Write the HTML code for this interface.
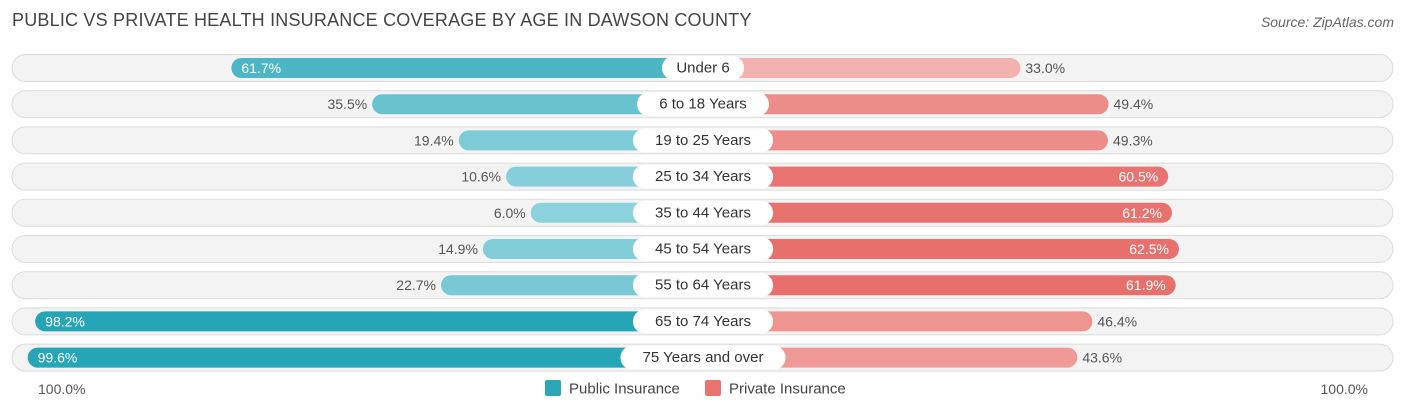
<!DOCTYPE html>
<html><head><meta charset="utf-8"><style>
body{margin:0;width:1406px;height:414px;background:#fff;font-family:"Liberation Sans",sans-serif;overflow:hidden;position:relative}
.t{position:absolute;left:12px;top:10px;font-size:18px;color:#444;letter-spacing:0.2px}
.s{position:absolute;right:12px;top:14px;font-size:14px;color:#666;font-style:italic}
</style></head><body>
<div class="t">PUBLIC VS PRIVATE HEALTH INSURANCE COVERAGE BY AGE IN DAWSON COUNTY</div>
<div class="s">Source: ZipAtlas.com</div>
<svg id="c" width="1406" height="414" style="position:absolute;left:0;top:0"></svg>
<script>
const categories=["Under 6","6 to 18 Years","19 to 25 Years","25 to 34 Years","35 to 44 Years","45 to 54 Years","55 to 64 Years","65 to 74 Years","75 Years and over"];
const publicVals=[61.7,35.5,19.4,10.6,6.0,14.9,22.7,98.2,99.6];
const privateVals=[33.0,49.4,49.3,60.5,61.2,62.5,61.9,46.4,43.6];
const NS="http://www.w3.org/2000/svg";
const svg=document.getElementById('c');
const cx=703,off=140,k=5.375,y0=68,dy=36.2,bh=20;
function xl(v){return cx-off-v*k}
function xr(v){return cx+off+v*k}
function mix(a,b,t){return 'rgb('+a.map((c,i)=>Math.round(c+(b[i]-c)*t)).join(',')+')'}
function pubCol(v){return mix([140,210,220],[38,165,183],Math.min(1,Math.max(0,(v-5)/90)))}
function privCol(v){return mix([244,185,183],[232,112,108],Math.min(1,Math.max(0,(v-30)/32)))}
function el(tag,attrs,name){const e=document.createElementNS(NS,tag);for(const a in attrs)e.setAttribute(a,attrs[a]);


svg.appendChild(e);return e}
function txt(x,y,s,anchor,fill,size,name){const t=el('text',{x:x,y:y,'text-anchor':anchor,fill:fill,'font-size':size,'font-family':'Liberation Sans, sans-serif','dominant-baseline':'central'},name);t.textContent=s;return t}
categories.forEach((cat,i)=>{
 const y=y0+i*dy;
 el('rect',{x:12,y:y-13.5,width:1381,height:27,rx:13.5,fill:'#f3f3f3',stroke:'#dcdcdc','stroke-width':1},'row-background');
 const pv=publicVals[i],rv=privateVals[i];
 el('rect',{x:xl(pv),y:y-bh/2,width:cx-xl(pv),height:bh,rx:10,fill:pubCol(pv)},'public-bar');
 el('rect',{x:cx,y:y-bh/2,width:xr(rv)-cx,height:bh,rx:10,fill:privCol(rv)},'private-bar');
 if(pv>55) txt(xl(pv)+10,y,pv.toFixed(1)+'%','start','#fff',14,'public-value');
 else txt(xl(pv)-5,y,pv.toFixed(1)+'%','end','#555',14,'public-value');
 if(rv>55) txt(xr(rv)-10,y,rv.toFixed(1)+'%','end','#fff',14,'private-value');
 else txt(xr(rv)+5,y,rv.toFixed(1)+'%','start','#555',14,'private-value');
 const w=cat.length*8.3+24;
 el('rect',{x:cx-w/2,y:y-12,width:w,height:24,rx:12,fill:'#fff'},'category-pill');
 txt(cx,y,cat,'middle','#333',15,'category-label');
});
txt(38,389,'100.0%','start','#555',14,'axis-left-label');
txt(1368,389,'100.0%','end','#555',14,'axis-right-label');
el('rect',{x:545,y:380,width:16,height:16,rx:2,fill:'#2aa7b8'},'legend-public-swatch');
txt(569,389,'Public Insurance','start','#444',15,'legend-public-label');
el('rect',{x:705,y:380,width:16,height:16,rx:2,fill:'#e8736f'},'legend-private-swatch');
txt(729,389,'Private Insurance','start','#444',15,'legend-private-label');
</script>
</body></html>
